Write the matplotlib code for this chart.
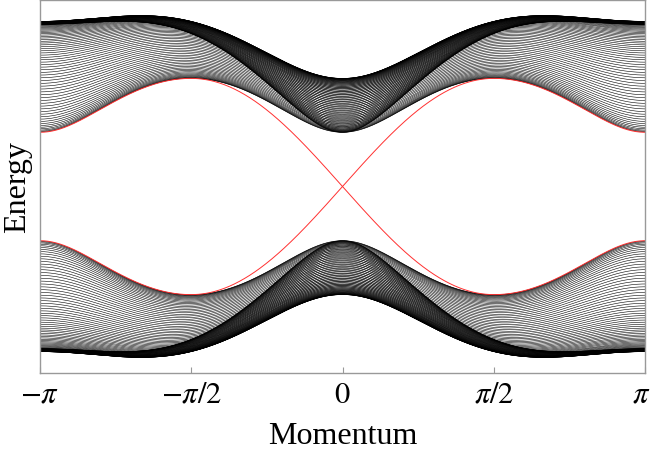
import numpy as np
import matplotlib.pyplot as plt
import matplotlib.transforms as mtransforms

# ribbon model parameters (Chern insulator strip, finite along y)
n_sites = 90
hop_x = 2.0      # sin(kx) sigma_x amplitude
hop_y = 2.0      # sin(ky) sigma_y amplitude
mass = 1.0
t_mass = 1.0
n_k = 601

x_ticks = [-np.pi, -np.pi / 2, 0, np.pi / 2, np.pi]
x_ticklabels = [r"$-\pi$", r"$-\pi/2$", r"$0$", r"$\pi/2$", r"$\pi$"]
y_limits = (-3.45, 3.45)

plt.rcParams["font.family"] = ["Liberation Serif", "DejaVu Serif"]
plt.rcParams["mathtext.fontset"] = "stix"

sx = np.array([[0, 1], [1, 0]], dtype=complex)
sy = np.array([[0, -1j], [1j, 0]], dtype=complex)
sz = np.array([[1, 0], [0, -1]], dtype=complex)


def ribbon_bands(kx):
    onsite = hop_x * np.sin(kx) * sx + (mass - t_mass * np.cos(kx)) * sz
    hop = -0.5 * t_mass * sz + hop_y / 2j * sy
    H = np.kron(np.eye(n_sites), onsite)
    H += np.kron(np.eye(n_sites, k=1), hop) + np.kron(np.eye(n_sites, k=-1), hop.conj().T)
    return np.linalg.eigvalsh(H)


ks = np.linspace(-np.pi, np.pi, n_k)
bands = np.array([ribbon_bands(k) for k in ks])
mid = n_sites

fig = plt.figure(figsize=(6.52, 4.56), dpi=100)
ax = fig.add_axes([40 / 652, 1 - 374 / 456, 605 / 652, 373 / 456])

for i in range(bands.shape[1]):
    if i in (mid - 1, mid):
        continue
    ax.plot(ks, bands[:, i], color="black", lw=0.4)
for i in (mid - 1, mid):
    ax.plot(ks, bands[:, i], color="#ff3030", lw=0.7)

ax.set_xlim(-np.pi, np.pi)
ax.set_ylim(*y_limits)
ax.set_xticks(x_ticks)
ax.set_xticklabels(x_ticklabels, fontsize=22)
ax.set_yticks([])
ax.tick_params(axis="x", direction="in", length=4, color="#999999", pad=5)
for s in ax.spines.values():
    s.set_color("#999999")
    s.set_linewidth(1.0)

# keep the right-most label inside the canvas
last = ax.get_xticklabels()[-1]
last.set_transform(last.get_transform() + mtransforms.ScaledTranslation(-4 / 100, 0, fig.dpi_scale_trans))

ax.set_xlabel("Momentum", fontsize=23, labelpad=9)
ax.set_ylabel("Energy", fontsize=23, labelpad=6)

fig.savefig("out.png", dpi=100)
